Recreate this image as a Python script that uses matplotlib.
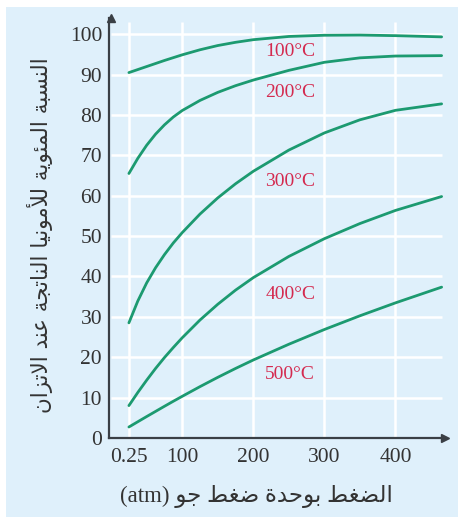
import numpy as np
import matplotlib.pyplot as plt
from matplotlib.patches import Rectangle

# pressure positions (atm); first point is the 0.25 atm reading
pressure = [25, 37.5, 50, 62.5, 75, 87.5, 100, 125, 150, 175, 200, 250, 300, 350, 400, 465]
yield_100 = [90.5, 91.25, 92.0, 92.75, 93.5, 94.2, 94.9, 96.15, 97.2, 98.0, 98.65, 99.45, 99.75, 99.8, 99.65, 99.35]
yield_200 = [65.5, 69.25, 72.5, 75.25, 77.55, 79.5, 81.1, 83.6, 85.6, 87.25, 88.65, 91.05, 93.05, 94.15, 94.6, 94.7]
yield_300 = [28.5, 33.9, 38.4, 42.15, 45.4, 48.3, 50.85, 55.45, 59.45, 62.95, 66.05, 71.3, 75.55, 78.8, 81.15, 82.75]
yield_400 = [8.0, 11.25, 14.3, 17.2, 19.9, 22.4, 24.8, 29.2, 33.1, 36.6, 39.7, 44.95, 49.35, 53.1, 56.35, 59.8]
yield_500 = [2.7, 4.0, 5.29, 6.56, 7.83, 9.08, 10.3, 12.7, 15.0, 17.2, 19.3, 23.2, 26.85, 30.25, 33.45, 37.35]
curves = [yield_100, yield_200, yield_300, yield_400, yield_500]
temp_labels = ["100°C", "200°C", "300°C", "400°C", "500°C"]
label_y = [95.8, 85.6, 63.5, 35.5, 15.6]

x_ticks = [25, 100, 200, 300, 400]
x_ticklabels = ["0.25", "100", "200", "300", "400"]
y_ticks = list(range(0, 101, 10))

y_title = "النسبة المئوية للأمونيا الناتجة عند الاتزان"
x_title = "الضغط بوحدة ضغط جو"

# minimal arabic shaping (matplotlib has no text layout engine for arabic)
FORMS = {
    'ا': (0xFE8D, 0xFE8E), 'أ': (0xFE83, 0xFE84), 'ة': (0xFE93, 0xFE94),
    'د': (0xFEA9, 0xFEAA), 'ز': (0xFEAF, 0xFEB0), 'و': (0xFEED, 0xFEEE),
    'ب': (0xFE8F, 0xFE90, 0xFE91, 0xFE92), 'ت': (0xFE95, 0xFE96, 0xFE97, 0xFE98),
    'ج': (0xFE9D, 0xFE9E, 0xFE9F, 0xFEA0), 'ح': (0xFEA1, 0xFEA2, 0xFEA3, 0xFEA4),
    'س': (0xFEB1, 0xFEB2, 0xFEB3, 0xFEB4), 'ض': (0xFEBD, 0xFEBE, 0xFEBF, 0xFEC0),
    'ط': (0xFEC1, 0xFEC2, 0xFEC3, 0xFEC4), 'ع': (0xFEC9, 0xFECA, 0xFECB, 0xFECC),
    'غ': (0xFECD, 0xFECE, 0xFECF, 0xFED0), 'ل': (0xFEDD, 0xFEDE, 0xFEDF, 0xFEE0),
    'م': (0xFEE1, 0xFEE2, 0xFEE3, 0xFEE4), 'ن': (0xFEE5, 0xFEE6, 0xFEE7, 0xFEE8),
    'ي': (0xFEF1, 0xFEF2, 0xFEF3, 0xFEF4), 'ئ': (0xFE89, 0xFE8A, 0xFE8B, 0xFE8C),
}
LAM_ALEF = {'ا': (0xFEFB, 0xFEFC), 'أ': (0xFEF7, 0xFEF8)}


def shape(text):
    # merge lam+alef into one token first
    tokens = []
    i = 0
    while i < len(text):
        if text[i] == 'ل' and i + 1 < len(text) and text[i + 1] in LAM_ALEF:
            tokens.append(('LA', text[i + 1]))
            i += 2
        else:
            tokens.append((text[i], None))
            i += 1

    def joins_left(tok):
        # can connect to the following letter
        return tok[0] in FORMS and len(FORMS[tok[0]]) == 4

    out = []
    for k, tok in enumerate(tokens):
        prev_j = k > 0 and joins_left(tokens[k - 1])
        nxt = k + 1 < len(tokens) and (tokens[k + 1][0] in FORMS or tokens[k + 1][0] == 'LA')
        if tok[0] == 'LA':
            f = LAM_ALEF[tok[1]]
            out.append(chr(f[1] if prev_j else f[0]))
        elif tok[0] in FORMS:
            f = FORMS[tok[0]]
            if len(f) == 2:
                out.append(chr(f[1] if prev_j else f[0]))
            else:
                if prev_j and nxt:
                    out.append(chr(f[3]))
                elif prev_j:
                    out.append(chr(f[1]))
                elif nxt:
                    out.append(chr(f[2]))
                else:
                    out.append(chr(f[0]))
        else:
            out.append(tok[0])
    return ''.join(out)[::-1]


fig = plt.figure(figsize=(4.58, 5.17), dpi=100, facecolor="white")
fig.patches.append(Rectangle((6 / 458, 0), 1, 1 - 7 / 517, transform=fig.transFigure,
                             facecolor="#dff0fb", edgecolor="none", zorder=-1))
ax = fig.add_axes([0.238, 0.153, 0.734, 0.812])
ax.set_facecolor("none")

ax.set_xlim(-3, 470)
ax.set_ylim(0, 104)

# white grid
ax.hlines(y_ticks[1:], 0, 465, color="white", linewidth=1.8, zorder=1)
ax.vlines(x_ticks, 0, 103, color="white", linewidth=1.8, zorder=1)

for vals in curves:
    ax.plot(pressure, vals, color="#1c9a70", linewidth=2.0, solid_capstyle="round",
            solid_joinstyle="round", zorder=3)

for lab, ly in zip(temp_labels, label_y):
    ax.text(252, ly, lab, color="#d42a4f", fontsize=14, family="Liberation Serif",
            ha="center", va="center", zorder=4)

ax.spines['right'].set_color('none')
ax.spines['top'].set_color('none')
ax.spines['left'].set_color('#3a3f45')
ax.spines['bottom'].set_color('#3a3f45')
ax.spines['left'].set_linewidth(1.6)
ax.spines['bottom'].set_linewidth(1.6)
ax.plot(1, 0, ">", color="#3a3f45", markersize=6, transform=ax.get_yaxis_transform(), clip_on=False)
ax.plot(0, 1, "^", color="#3a3f45", markersize=6, transform=ax.get_xaxis_transform(), clip_on=False)

ax.set_xticks(x_ticks)
ax.set_xticklabels(x_ticklabels)
ax.set_yticks(y_ticks)
ax.tick_params(length=0, labelsize=15.5, colors="#333333")
ax.tick_params(axis="x", pad=7)
ax.tick_params(axis="y", pad=5)
for t in ax.get_xticklabels() + ax.get_yticklabels():
    t.set_family("Liberation Serif")

fig.text(40 / 458, 1 - 235 / 517, shape(y_title), rotation=90, fontsize=15.5,
         family="DejaVu Sans", color="#333333", ha="center", va="center")
fig.text(256 / 458, 1 - 496 / 517, "(atm) " + shape(x_title), fontsize=16.5,
         family=["Liberation Serif", "DejaVu Sans"], color="#333333", ha="center", va="center")

plt.savefig("out.png", dpi=100, facecolor=fig.get_facecolor())
